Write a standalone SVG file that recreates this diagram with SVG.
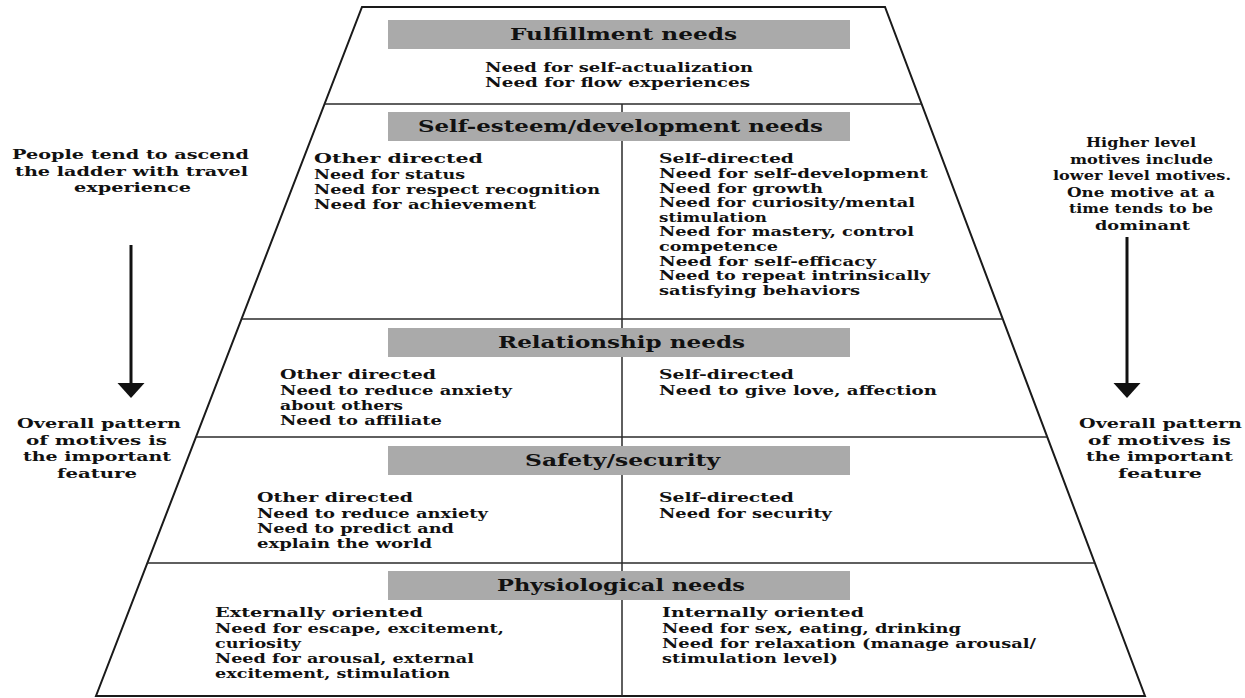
<svg xmlns="http://www.w3.org/2000/svg" width="1245" height="698" viewBox="0 0 1245 698">
<style>
  text { font-family: "DejaVu Serif", "Liberation Serif", serif; font-weight: bold; fill: #111; }
  .t { font-size: 16.5px; }
  .b { font-size: 13px; }
  .s { font-size: 13.5px; }
  .edge { fill: none; stroke: #1a1a1a; stroke-width: 2; }
  .rule { stroke: #2a2a2a; stroke-width: 1.5; fill: none; }
  .band { fill: #aaaaaa; }
  .shaft { stroke: #111; stroke-width: 3; fill: none; }
  .head { fill: #111; }
</style>
<rect width="1245" height="698" fill="#ffffff"/>

<g id="ladder-frame">
  <polygon class="edge" points="362,7 885,7 1145,696 96,696"/>
  <line class="rule" x1="324.5" y1="104" x2="921.6" y2="104"/>
  <line class="rule" x1="241.5" y1="319" x2="1002.7" y2="319"/>
  <line class="rule" x1="196" y1="437" x2="1047.3" y2="437"/>
  <line class="rule" x1="147.3" y1="563" x2="1094.8" y2="563"/>
  <line class="rule" x1="622" y1="104" x2="622" y2="696"/>
</g>

<g id="fulfillment">
  <rect class="band" x="388" y="20" width="462" height="29"/>
  <text class="t" x="510" y="40" textLength="227" lengthAdjust="spacingAndGlyphs">Fulfillment needs</text>
  <text class="b" x="485" y="72" textLength="268" lengthAdjust="spacingAndGlyphs">Need for self-actualization</text>
  <text class="b" x="485" y="87" textLength="265" lengthAdjust="spacingAndGlyphs">Need for flow experiences</text>
</g>

<g id="self-esteem">
  <rect class="band" x="388" y="112" width="462" height="29"/>
  <text class="t" x="418" y="132" textLength="405" lengthAdjust="spacingAndGlyphs">Self-esteem/development needs</text>
  <text class="b" x="314" y="163" textLength="169" lengthAdjust="spacingAndGlyphs">Other directed</text>
  <text class="b" x="314" y="178.5" textLength="151" lengthAdjust="spacingAndGlyphs">Need for status</text>
  <text class="b" x="314" y="193.5" textLength="286" lengthAdjust="spacingAndGlyphs">Need for respect recognition</text>
  <text class="b" x="314" y="208.5" textLength="222" lengthAdjust="spacingAndGlyphs">Need for achievement</text>
  <text class="b" x="659" y="163" textLength="135" lengthAdjust="spacingAndGlyphs">Self-directed</text>
  <text class="b" x="659" y="178" textLength="269" lengthAdjust="spacingAndGlyphs">Need for self-development</text>
  <text class="b" x="659" y="192.6" textLength="164" lengthAdjust="spacingAndGlyphs">Need for growth</text>
  <text class="b" x="659" y="207.2" textLength="256" lengthAdjust="spacingAndGlyphs">Need for curiosity/mental</text>
  <text class="b" x="659" y="221.8" textLength="108" lengthAdjust="spacingAndGlyphs">stimulation</text>
  <text class="b" x="659" y="236.4" textLength="255" lengthAdjust="spacingAndGlyphs">Need for mastery, control</text>
  <text class="b" x="659" y="251" textLength="119" lengthAdjust="spacingAndGlyphs">competence</text>
  <text class="b" x="659" y="265.6" textLength="217" lengthAdjust="spacingAndGlyphs">Need for self-efficacy</text>
  <text class="b" x="659" y="280.2" textLength="271" lengthAdjust="spacingAndGlyphs">Need to repeat intrinsically</text>
  <text class="b" x="659" y="294.8" textLength="201" lengthAdjust="spacingAndGlyphs">satisfying behaviors</text>
</g>

<g id="relationship">
  <rect class="band" x="388" y="328" width="462" height="29"/>
  <text class="t" x="498" y="348" textLength="247" lengthAdjust="spacingAndGlyphs">Relationship needs</text>
  <text class="b" x="280" y="379" textLength="156" lengthAdjust="spacingAndGlyphs">Other directed</text>
  <text class="b" x="280" y="394.5" textLength="232" lengthAdjust="spacingAndGlyphs">Need to reduce anxiety</text>
  <text class="b" x="280" y="409.5" textLength="123" lengthAdjust="spacingAndGlyphs">about others</text>
  <text class="b" x="280" y="424.5" textLength="162" lengthAdjust="spacingAndGlyphs">Need to affiliate</text>
  <text class="b" x="659" y="379" textLength="135" lengthAdjust="spacingAndGlyphs">Self-directed</text>
  <text class="b" x="659" y="394.5" textLength="278" lengthAdjust="spacingAndGlyphs">Need to give love, affection</text>
</g>

<g id="safety">
  <rect class="band" x="388" y="446" width="462" height="29"/>
  <text class="t" x="525" y="466" textLength="195" lengthAdjust="spacingAndGlyphs">Safety/security</text>
  <text class="b" x="257" y="502" textLength="156" lengthAdjust="spacingAndGlyphs">Other directed</text>
  <text class="b" x="257" y="518" textLength="231" lengthAdjust="spacingAndGlyphs">Need to reduce anxiety</text>
  <text class="b" x="257" y="533" textLength="197" lengthAdjust="spacingAndGlyphs">Need to predict and</text>
  <text class="b" x="257" y="548" textLength="175" lengthAdjust="spacingAndGlyphs">explain the world</text>
  <text class="b" x="659" y="502" textLength="135" lengthAdjust="spacingAndGlyphs">Self-directed</text>
  <text class="b" x="659" y="518" textLength="173" lengthAdjust="spacingAndGlyphs">Need for security</text>
</g>

<g id="physiological">
  <rect class="band" x="388" y="571" width="462" height="29"/>
  <text class="t" x="497" y="591" textLength="248" lengthAdjust="spacingAndGlyphs">Physiological needs</text>
  <text class="b" x="215" y="617" textLength="208" lengthAdjust="spacingAndGlyphs">Externally oriented</text>
  <text class="b" x="215" y="633" textLength="289" lengthAdjust="spacingAndGlyphs">Need for escape, excitement,</text>
  <text class="b" x="215" y="648" textLength="86" lengthAdjust="spacingAndGlyphs">curiosity</text>
  <text class="b" x="215" y="663" textLength="259" lengthAdjust="spacingAndGlyphs">Need for arousal, external</text>
  <text class="b" x="215" y="678" textLength="235" lengthAdjust="spacingAndGlyphs">excitement, stimulation</text>
  <text class="b" x="662" y="617" textLength="202" lengthAdjust="spacingAndGlyphs">Internally oriented</text>
  <text class="b" x="662" y="633" textLength="299" lengthAdjust="spacingAndGlyphs">Need for sex, eating, drinking</text>
  <text class="b" x="662" y="648" textLength="374" lengthAdjust="spacingAndGlyphs">Need for relaxation (manage arousal/</text>
  <text class="b" x="662" y="663" textLength="176" lengthAdjust="spacingAndGlyphs">stimulation level)</text>
</g>

<g id="note-left-top">
  <text class="s" x="12" y="159" textLength="237" lengthAdjust="spacingAndGlyphs">People tend to ascend</text>
  <text class="s" x="15" y="175.5" textLength="233" lengthAdjust="spacingAndGlyphs">the ladder with travel</text>
  <text class="s" x="74" y="192" textLength="117" lengthAdjust="spacingAndGlyphs">experience</text>
</g>

<g id="note-left-bottom">
  <text class="s" x="17" y="428" textLength="164" lengthAdjust="spacingAndGlyphs">Overall pattern</text>
  <text class="s" x="26" y="444.5" textLength="141" lengthAdjust="spacingAndGlyphs">of motives is</text>
  <text class="s" x="23" y="461" textLength="148" lengthAdjust="spacingAndGlyphs">the important</text>
  <text class="s" x="57" y="477.5" textLength="80" lengthAdjust="spacingAndGlyphs">feature</text>
</g>

<g id="note-right-top">
  <text class="s" x="1086" y="147" textLength="110" lengthAdjust="spacingAndGlyphs">Higher level</text>
  <text class="s" x="1070" y="163.5" textLength="143" lengthAdjust="spacingAndGlyphs">motives include</text>
  <text class="s" x="1053" y="180" textLength="178" lengthAdjust="spacingAndGlyphs">lower level motives.</text>
  <text class="s" x="1067" y="196.5" textLength="148" lengthAdjust="spacingAndGlyphs">One motive at a</text>
  <text class="s" x="1069" y="213" textLength="144" lengthAdjust="spacingAndGlyphs">time tends to be</text>
  <text class="s" x="1095" y="229.5" textLength="95" lengthAdjust="spacingAndGlyphs">dominant</text>
</g>

<g id="note-right-bottom">
  <text class="s" x="1079" y="428" textLength="163" lengthAdjust="spacingAndGlyphs">Overall pattern</text>
  <text class="s" x="1088" y="444.5" textLength="143" lengthAdjust="spacingAndGlyphs">of motives is</text>
  <text class="s" x="1086" y="461" textLength="147" lengthAdjust="spacingAndGlyphs">the important</text>
  <text class="s" x="1118" y="477.5" textLength="84" lengthAdjust="spacingAndGlyphs">feature</text>
</g>

<g id="connectors">
  <line class="shaft" x1="131" y1="245" x2="131" y2="384"/>
  <polygon class="head" points="117.5,383 144.5,383 131,398"/>
  <line class="shaft" x1="1127" y1="237" x2="1127" y2="384"/>
  <polygon class="head" points="1113.5,383 1140.5,383 1127,398"/>
</g>
</svg>
